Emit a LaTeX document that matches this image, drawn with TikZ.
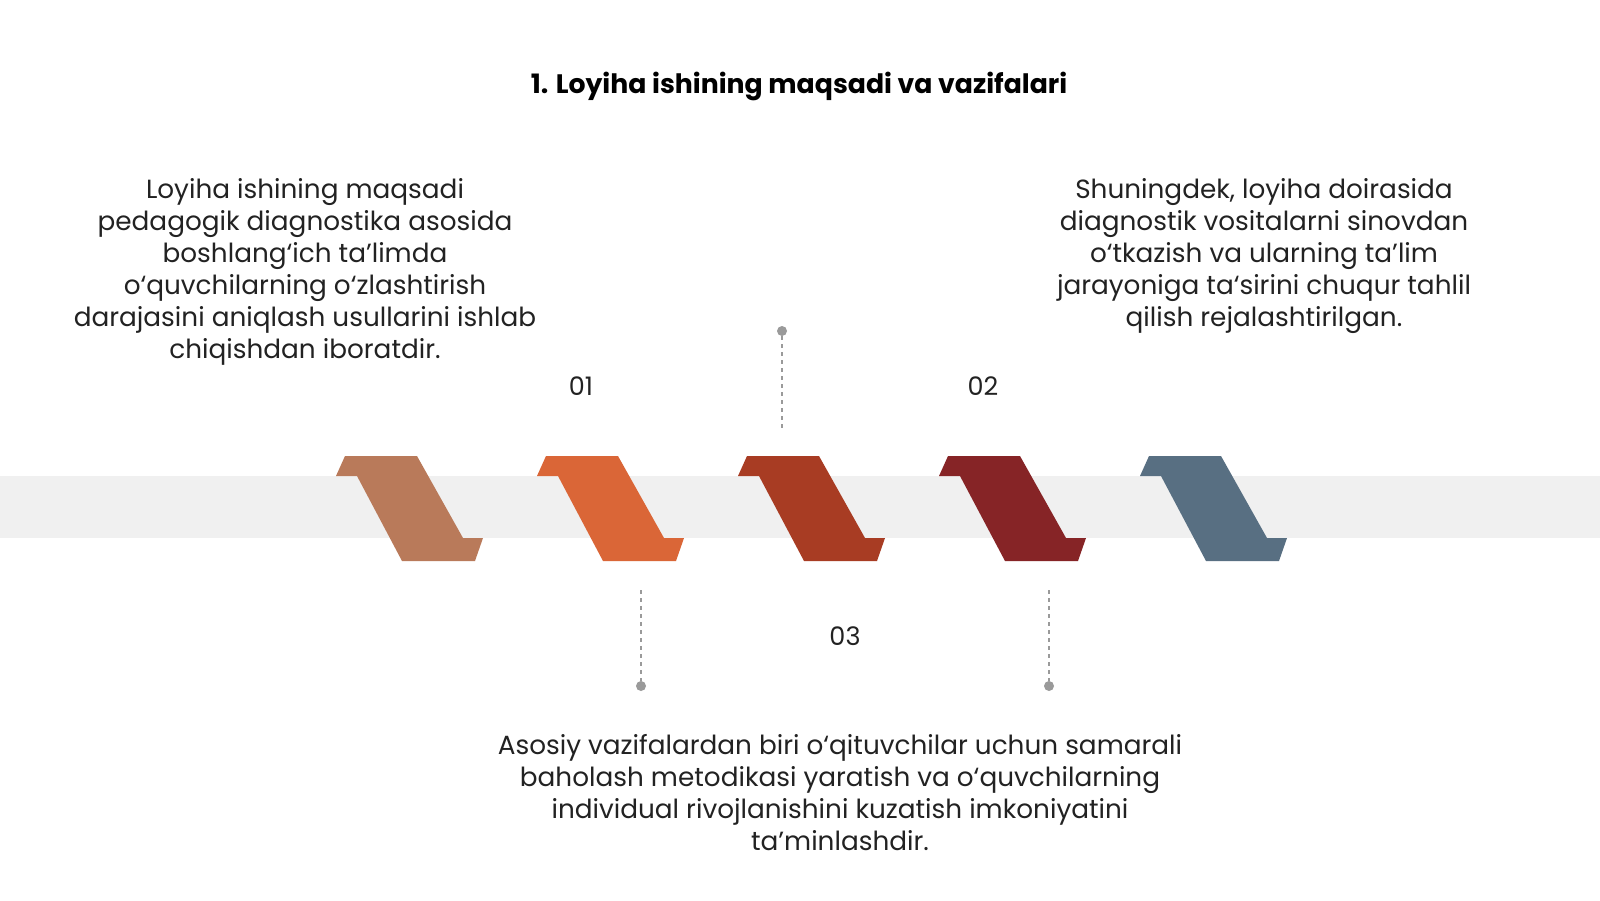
\documentclass[tikz,border=0pt]{standalone}
\usepackage{fontspec}
\setmainfont{Poppins}
\definecolor{band}{HTML}{F0F0F0}
\definecolor{cA}{HTML}{B97A5A}
\definecolor{cB}{HTML}{DA6637}
\definecolor{cC}{HTML}{A83C23}
\definecolor{cD}{HTML}{862426}
\definecolor{cE}{HTML}{586F82}
\definecolor{txt}{HTML}{222222}
\definecolor{dotg}{HTML}{9A9A9A}
\tikzset{
  body/.style={text=txt, align=center, font=\fontsize{26.3}{32}\selectfont, inner sep=0pt},
  numlbl/.style={text=txt, font=\fontsize{25.5}{30}\selectfont, inner sep=0pt},
  dashline/.style={draw=dotg, line width=1.4pt, dash pattern=on 4pt off 4pt},
  enddot/.style={circle, fill=dotg, minimum size=10pt, inner sep=0pt},
}
\begin{document}
\begin{tikzpicture}[x=1pt,y=-1pt]
\useasboundingbox (0,0) rectangle (1600,900);
\fill[white] (0,0) rectangle (1600,900);
\fill[band] (0,476) rectangle (1600,538);
\foreach \c [count=\i from 0] in {cA,cB,cC,cD,cE}{
  \fill[\c, shift={(201*\i,0)}] (336,476) -- (345,456) -- (417,456) -- (463,538) -- (483,538)
     -- (475,561) -- (402,561) -- (357,476) -- cycle;
}
\node[font=\bfseries\fontsize{26.7}{30}\selectfont, text=black, inner sep=0pt] (title) at (799,86) {1. Loyiha ishining maqsadi va vazifalari};
\node[body] (left) at (305,272) {Loyiha ishining maqsadi\\pedagogik diagnostika asosida\\boshlang‘ich ta’limda\\o‘quvchilarning o‘zlashtirish\\darajasini aniqlash usullarini ishlab\\chiqishdan iboratdir.};
\node[body] (right) at (1264,256) {Shuningdek, loyiha doirasida\\diagnostik vositalarni sinovdan\\o‘tkazish va ularning ta’lim\\jarayoniga ta‘sirini chuqur tahlil\\qilish rejalashtirilgan.};
\node[body] (bottom) at (840,793) {Asosiy vazifalardan biri o‘qituvchilar uchun samarali\\baholash metodikasi yaratish va o‘quvchilarning\\individual rivojlanishini kuzatish imkoniyatini\\ta’minlashdir.};
\node[numlbl] (n01) at (581,386) {01};
\node[numlbl] (n02) at (983,386) {02};
\node[numlbl] (n03) at (845,636) {03};
\node[enddot] (dt) at (782,331) {};
\coordinate (et) at (782,429);
\draw[dashline] (dt) -- (et);
\node[enddot] (db1) at (641,686) {};
\coordinate (eb1) at (641,590);
\draw[dashline] (eb1) -- (db1);
\node[enddot] (db2) at (1049,686) {};
\coordinate (eb2) at (1049,590);
\draw[dashline] (eb2) -- (db2);
\end{tikzpicture}
\end{document}
